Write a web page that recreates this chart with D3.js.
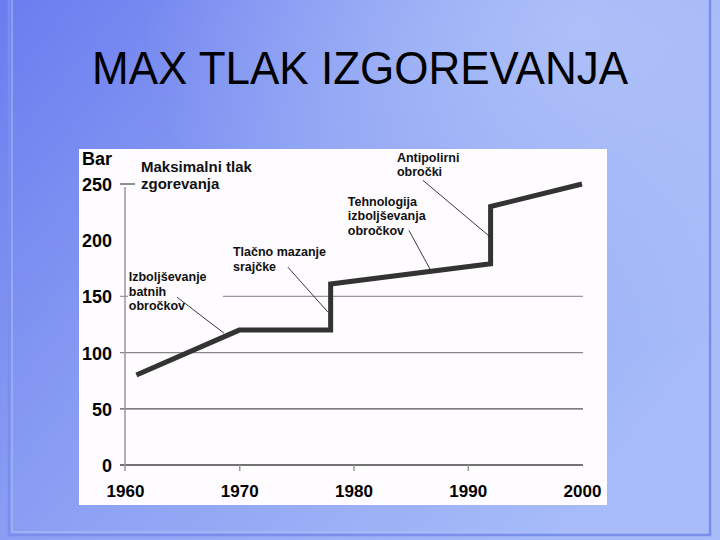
<!DOCTYPE html>
<html>
<head>
<meta charset="utf-8">
<script src="https://cdn.jsdelivr.net/npm/d3@7"></script>
<style>
  html, body { margin: 0; padding: 0; background: #8ea3f3; }
  svg { display: block; }
  text { font-family: Arial, "Liberation Sans", Helvetica, sans-serif; }
</style>
</head>
<body>
<svg id="chart" width="720" height="540"></svg>
<script>
// ---- data ----
const title = "MAX TLAK IZGOREVANJA";
const unitLabel = "Bar";
const years  = [1961, 1970, 1978, 1978, 1992, 1992, 2000];
const values = [80,   120,  120,  161,  179,  230,  250];
const xTicks = [1960, 1970, 1980, 1990, 2000];
const yTicks = [0, 50, 100, 150, 200, 250];
const gridValues = [0, 50, 100, 150];
const seriesName = ["Maksimalni tlak", "zgorevanja"];
// annotation texts, label anchors (year, value) and leader lines (year/value start -> end)
const annoTexts = [
  ["Izboljševanje", "batnih", "obročkov"],
  ["Tlačno mazanje", "srajčke"],
  ["Tehnologija", "izboljševanja", "obročkov"],
  ["Antipolirni", "obročki"]
];
const annoAnchor = [[1960.33, 163.5], [1969.45, 185.5], [1979.5, 230.5], [1983.8, 270]];
const leaderFrom = [[1964.55, 149.3], [1974.26, 176], [1984.85, 208.8], [1986.07, 253.3]];
const leaderTo   = [[1968.66, 117.3], [1977.76, 136], [1986.7, 174.2], [1992.0, 202.6]];

// ---- drawing ----
const svg = d3.select("#chart");
const defs = svg.append("defs");
const bg = defs.append("linearGradient").attr("id", "bg")
  .attr("x1", "0").attr("y1", "0").attr("x2", "1").attr("y2", "0.6");
bg.append("stop").attr("offset", "0").attr("stop-color", "#6b7cef");
bg.append("stop").attr("offset", "0.45").attr("stop-color", "#8a9ff3");
bg.append("stop").attr("offset", "1").attr("stop-color", "#a6bbf8");
const hl = defs.append("radialGradient").attr("id", "hl")
  .attr("cx", "0.8").attr("cy", "0.05").attr("r", "0.6");
hl.append("stop").attr("offset", "0").attr("stop-color", "#c4d4fc").attr("stop-opacity", 0.55);
hl.append("stop").attr("offset", "1").attr("stop-color", "#c4d4fc").attr("stop-opacity", 0);

svg.append("rect").attr("width", 720).attr("height", 540).attr("fill", "url(#bg)");
svg.append("rect").attr("width", 720).attr("height", 540).attr("fill", "url(#hl)");
// slide frame
svg.append("path").attr("d", "M9,0V535H710V0").attr("fill", "none")
  .attr("stroke", "#7a8fec").attr("stroke-width", 2.5);
svg.append("path").attr("d", "M12,0V532H707V0").attr("fill", "none")
  .attr("stroke", "#aebff8").attr("stroke-width", 1);

// title
svg.append("text").attr("x", 360).attr("y", 84).attr("text-anchor", "middle")
  .attr("font-size", 46).attr("fill", "#000")
  .attr("textLength", 536).attr("lengthAdjust", "spacingAndGlyphs")
  .text(title);

// chart panel
svg.append("rect").attr("x", 79).attr("y", 149).attr("width", 528).attr("height", 356)
  .attr("fill", "#fefcfe");

const x = d3.scaleLinear().domain([1960, 2000]).range([125, 582]);
const y = d3.scaleLinear().domain([0, 250]).range([465, 184]);

// gridlines
const gridColor = {0: "#444", 50: "#555", 100: "#888", 150: "#999"};
svg.append("g").selectAll("line").data(gridValues).join("line")
  .attr("x1", x(1960) - 5).attr("x2", x(2000) + 1)
  .attr("y1", d => y(d)).attr("y2", d => y(d))
  .attr("stroke", d => gridColor[d]).attr("stroke-width", 1.3);
// short tick at 250
svg.append("line").attr("x1", x(1960) - 5).attr("x2", x(1960) + 10)
  .attr("y1", y(250)).attr("y2", y(250)).attr("stroke", "#555").attr("stroke-width", 1.3);
// vertical axis line
svg.append("line").attr("x1", x(1960)).attr("x2", x(1960))
  .attr("y1", y(250) + 3).attr("y2", y(0) + 6).attr("stroke", "#999").attr("stroke-width", 1.5);

// y axis labels
const yAxis = svg.append("g").attr("transform", `translate(${x(1960)},0)`)
  .call(d3.axisLeft(y).tickValues(yTicks).tickSize(0).tickPadding(13).tickFormat(d3.format("d")));
yAxis.select(".domain").remove();
yAxis.selectAll("text").attr("font-size", 18).attr("font-weight", "bold")
  .attr("fill", "#000").attr("font-family", "Arial, 'Liberation Sans', sans-serif").attr("dy", "0.36em");

// x axis
const xAxis = svg.append("g").attr("transform", `translate(0,${y(0)})`)
  .call(d3.axisBottom(x).tickValues(xTicks).tickSize(6).tickPadding(14).tickFormat(d3.format("d")));
xAxis.select(".domain").remove();
xAxis.selectAll(".tick line").attr("stroke", "#999").attr("stroke-width", 1.5)
  .attr("opacity", d => (d === 1960 || d === 2000) ? 0 : 1);
xAxis.selectAll("text").attr("font-size", 17).attr("font-weight", "bold")
  .attr("fill", "#000").attr("font-family", "Arial, 'Liberation Sans', sans-serif").attr("dy", "0.71em");

// unit label
svg.append("text").attr("x", 112).attr("y", 165).attr("text-anchor", "end")
  .attr("font-size", 18).attr("font-weight", "bold").attr("fill", "#000").text(unitLabel);

// series name label
const sn = svg.append("text").attr("x", 141).attr("y", 172)
  .attr("font-size", 15).attr("font-weight", "bold").attr("fill", "#111");
seriesName.forEach((t, i) => sn.append("tspan").attr("x", 141).attr("dy", i ? 16.5 : 0).text(t));

// white box behind the first annotation (covers the 150 gridline)
svg.append("rect").attr("x", 128).attr("y", 268).attr("width", 95).attr("height", 46).attr("fill", "#fefcfe");

// data line
const pts = years.map((yr, i) => [yr, values[i]]);
svg.append("path").datum(pts)
  .attr("d", d3.line().x(d => x(d[0])).y(d => y(d[1])))
  .attr("fill", "none").attr("stroke", "#333").attr("stroke-width", 5)
  .attr("stroke-linejoin", "miter").attr("stroke-linecap", "butt");

// leader lines
svg.append("g").selectAll("line").data(leaderFrom).join("line")
  .attr("x1", d => x(d[0])).attr("y1", d => y(d[1]))
  .attr("x2", (d, i) => x(leaderTo[i][0])).attr("y2", (d, i) => y(leaderTo[i][1]))
  .attr("stroke", "#222").attr("stroke-width", 0.9);

// annotation labels
annoTexts.forEach((lines, i) => {
  const [ax, av] = annoAnchor[i];
  const t = svg.append("text").attr("x", x(ax)).attr("y", y(av))
    .attr("font-size", 12.5).attr("font-weight", "bold").attr("fill", "#111");
  lines.forEach((s, j) => t.append("tspan").attr("x", x(ax)).attr("dy", j ? 14.5 : 0).text(s));
});
</script>
</body>
</html>
